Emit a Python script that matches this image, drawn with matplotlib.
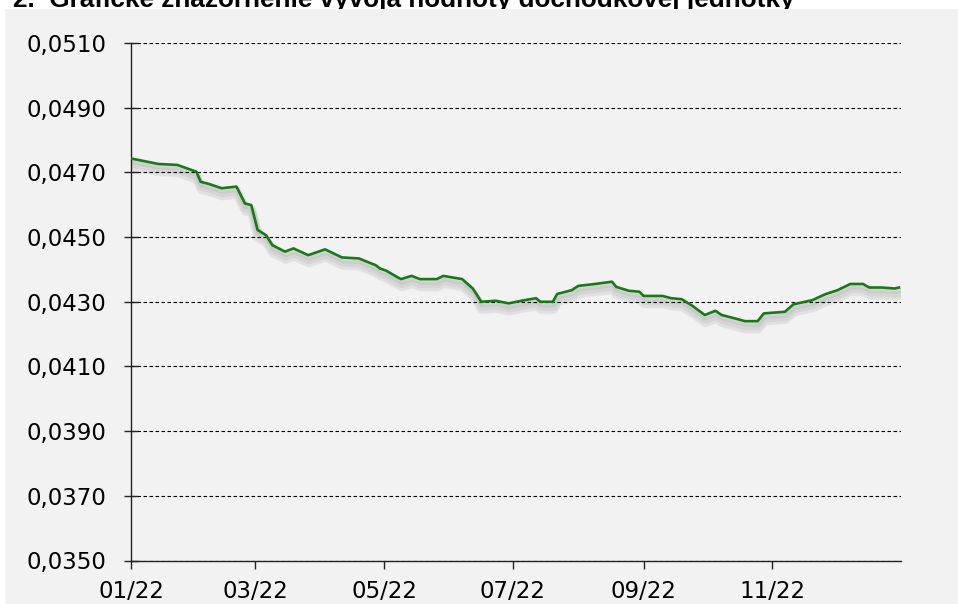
import numpy as np
import pandas as pd
import matplotlib as mpl
mpl.use('Agg')
import matplotlib.pyplot as plt
import matplotlib.dates as mdates
import matplotlib.patheffects as pe
from matplotlib.patches import Rectangle
from matplotlib.ticker import FuncFormatter

# hodnota dochodkovej jednotky, 2022
dates = ['2022-01-01', '2022-01-14', '2022-01-23', '2022-02-01', '2022-02-03',
         '2022-02-07', '2022-02-13', '2022-02-20', '2022-02-24', '2022-02-27',
         '2022-03-02', '2022-03-06', '2022-03-09', '2022-03-15', '2022-03-19',
         '2022-03-26', '2022-04-03', '2022-04-11', '2022-04-19', '2022-04-27',
         '2022-04-29', '2022-05-02', '2022-05-07', '2022-05-09', '2022-05-14',
         '2022-05-18', '2022-05-26', '2022-05-29', '2022-06-07', '2022-06-12',
         '2022-06-14', '2022-06-16', '2022-06-23', '2022-06-29', '2022-07-05',
         '2022-07-12', '2022-07-14', '2022-07-20', '2022-07-22', '2022-07-29',
         '2022-08-01', '2022-08-09', '2022-08-17', '2022-08-19', '2022-08-25',
         '2022-08-30', '2022-09-01', '2022-09-10', '2022-09-14', '2022-09-19',
         '2022-09-24', '2022-09-30', '2022-10-05', '2022-10-08', '2022-10-14',
         '2022-10-19', '2022-10-25', '2022-10-28', '2022-11-07', '2022-11-11',
         '2022-11-20', '2022-11-26', '2022-12-02', '2022-12-08', '2022-12-14',
         '2022-12-17', '2022-12-23', '2022-12-29', '2022-12-31']
values = [0.04743, 0.04726, 0.04723, 0.04702, 0.04671,
          0.04664, 0.04651, 0.04656, 0.04604, 0.04599,
          0.04522, 0.04506, 0.04475, 0.04455, 0.04465,
          0.04444, 0.04462, 0.04437, 0.04434, 0.04413,
          0.04403, 0.04396, 0.04377, 0.04370, 0.04380,
          0.04370, 0.04370, 0.04380, 0.04370, 0.04341,
          0.04321, 0.04300, 0.04303, 0.04295, 0.04303,
          0.04311, 0.04300, 0.04300, 0.04324, 0.04336,
          0.04349, 0.04355, 0.04362, 0.04346, 0.04334,
          0.04331, 0.04318, 0.04318, 0.04311, 0.04308,
          0.04288, 0.04259, 0.04272, 0.04259, 0.04249,
          0.04240, 0.04240, 0.04264, 0.04269, 0.04292,
          0.04305, 0.04323, 0.04336, 0.04355, 0.04355,
          0.04344, 0.04344, 0.04341, 0.04344]

yticks = [0.0350, 0.0370, 0.0390, 0.0410, 0.0430, 0.0450, 0.0470, 0.0490, 0.0510]
xticks = ['2022-01-01', '2022-03-01', '2022-05-01', '2022-07-01', '2022-09-01', '2022-11-01']
title = '2.  Grafické znázornenie vývoja hodnoty dôchodkovej jednotky'

bg = '#f2f2f2'
W, H = 958, 604

fig = plt.figure(figsize=(W / 100, H / 100), dpi=100, facecolor='white')

# nadpis je zhora orezany, sedi pod sivym panelom
fig.text(13 / W, 1 - 7 / H, title, fontsize=18.8, fontweight='bold',
         family='Liberation Sans', va='baseline', ha='left', zorder=0.5)
fig.patches.append(Rectangle((5 / W, 0), 1 - 5 / W, 1 - 9 / H, transform=fig.transFigure,
                             facecolor=bg, edgecolor='none', zorder=1))

ax = fig.add_axes([131 / W, 1 - 560.5 / H, 770 / W, (560.5 - 43) / H], zorder=2)
ax.set_facecolor('none')

x = pd.to_datetime(dates)
# mekky tien pod ciarou
shadow = [pe.SimpleLineShadow(offset=(0.5, -o), shadow_color='black', alpha=a, linewidth=lw)
          for o, a, lw in ((2.0, 0.05, 4), (3.5, 0.05, 6), (5.0, 0.04, 7), (6.0, 0.03, 6))]
ax.plot(x, values, color='#177a17', lw=1.9, solid_joinstyle='round',
        path_effects=shadow + [pe.Normal()], zorder=3)

ax.set_ylim(yticks[0], yticks[-1])
ax.set_xlim(pd.Timestamp('2022-01-01'), pd.Timestamp('2023-01-01'))
ax.set_yticks(yticks)
ax.set_xticks(pd.to_datetime(xticks))
ax.xaxis.set_major_formatter(mdates.DateFormatter('%m/%y'))
ax.yaxis.set_major_formatter(FuncFormatter(lambda v, p: f'{v:.4f}'.replace('.', ',')))

ax.grid(axis='y', color='black', linestyle=(0, (3.2, 2.2)), linewidth=0.8)
ax.set_axisbelow(True)
for s in ['top', 'right']:
    ax.spines[s].set_visible(False)
for s in ['left', 'bottom']:
    ax.spines[s].set_linewidth(1.0)
    ax.spines[s].set_color('#222222')

ax.tick_params(axis='y', direction='inout', length=10, width=1, pad=13, labelsize=16.5, colors='#222222')
ax.tick_params(axis='x', direction='out', length=6, width=1, pad=8, labelsize=16.5, colors='#222222')
for lab in ax.get_xticklabels() + ax.get_yticklabels():
    lab.set_color('black')

fig.savefig('out.png', dpi=100, facecolor=fig.get_facecolor())
